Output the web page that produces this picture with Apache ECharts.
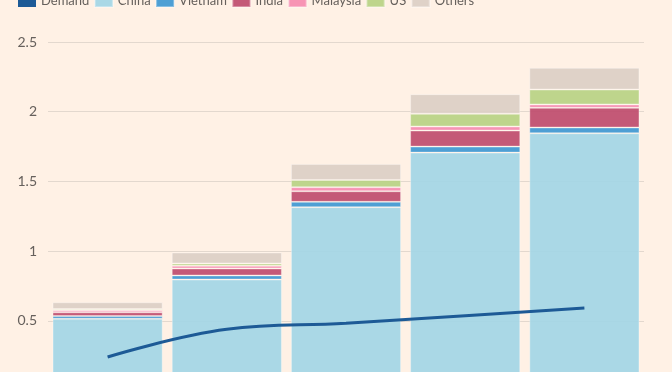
<!DOCTYPE html>
<html>
<head>
<meta charset="utf-8">
<script src="https://cdn.jsdelivr.net/npm/echarts@6/dist/echarts.min.js"></script>
<style>
html,body{margin:0;padding:0;background:#fff1e5;}
#chart{width:672px;height:372px;}
</style>
</head>
<body>
<div id="chart"></div>
<script>
const categories = ['2022', '2023', '2024', '2025', '2026'];
const demand   = [0.242, 0.44, 0.483, 0.538, 0.593];
const china    = [0.516, 0.797, 1.316, 1.707, 1.846];
const vietnam  = [0.020, 0.029, 0.038, 0.043, 0.041];
const india    = [0.026, 0.050, 0.076, 0.115, 0.141];
const malaysia = [0.014, 0.019, 0.029, 0.029, 0.024];
const us       = [0.010, 0.017, 0.052, 0.091, 0.107];
const others   = [0.048, 0.079, 0.115, 0.141, 0.156];
const yTicks   = [0, 0.5, 1, 1.5, 2, 2.5];

const colors = {
  Demand: '#1d5a96', China: '#a3d6e6', Vietnam: '#3f98d2', India: '#bf4c6e',
  Malaysia: '#f68cb0', US: '#b9d384', Others: '#dccfc6'
};

const chart = echarts.init(document.getElementById('chart'), null, {renderer: 'canvas'});
function barSeries(name, data) {
  return {
    name, type: 'bar', stack: 'total', data,
    barCategoryGap: '7.6%',
    itemStyle: {color: colors[name], opacity: 0.92, borderColor: 'rgba(255,255,255,0.35)', borderWidth: 1},
    emphasis: {disabled: true}
  };
}
chart.setOption({
  backgroundColor: '#fff1e5',
  animation: false,
  textStyle: {fontFamily: 'Lato'},
  legend: {
    left: 18, top: -6, padding: 0,
    icon: 'rect', itemWidth: 18, itemHeight: 12, itemGap: 4.5,
    textStyle: {color: '#66605c', fontSize: 13, fontFamily: 'Lato'},
    data: ['Demand', 'China', 'Vietnam', 'India', 'Malaysia', 'US', 'Others']
  },
  grid: {left: 48, right: 28, top: 42, height: 348.7, containLabel: false, outerBoundsMode: 'none'},
  xAxis: {
    type: 'category', data: categories,
    axisLine: {show: false}, axisTick: {show: false},
    axisLabel: {color: '#66605c', fontSize: 14}
  },
  yAxis: {
    type: 'value', min: yTicks[0], max: yTicks[yTicks.length - 1], interval: 0.5,
    axisLine: {show: false}, axisTick: {show: false},
    axisLabel: {color: '#66605c', fontSize: 14, margin: 11, fontFamily: 'Lato'},
    splitLine: {lineStyle: {color: '#e3d8ce', width: 1}}
  },
  series: [
    barSeries('China', china),
    barSeries('Vietnam', vietnam),
    barSeries('India', india),
    barSeries('Malaysia', malaysia),
    barSeries('US', us),
    barSeries('Others', others),
    {
      name: 'Demand', type: 'line', data: demand, smooth: 0.4, symbol: 'none',
      lineStyle: {color: colors.Demand, width: 3}, itemStyle: {color: colors.Demand},
      z: 5
    }
  ]
});
</script>
</body>
</html>
